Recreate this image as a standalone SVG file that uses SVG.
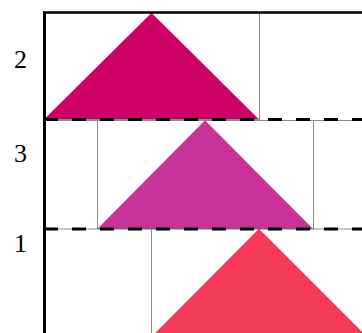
<svg xmlns="http://www.w3.org/2000/svg" width="362" height="333" viewBox="0 0 362 333">
<style>
.grid{stroke:#8c8c8c;stroke-width:1;fill:none}
.sep{stroke:#000;stroke-width:3;stroke-dasharray:14 14;fill:none}
.axis{stroke:#000;fill:none}
.lbl{font-family:"Liberation Serif","Times New Roman",serif;font-size:26px;fill:#000;text-anchor:middle}
.tri{stroke:#666;stroke-width:0.4}
</style>
<rect width="362" height="333" fill="#fff"/>
<g id="grid">
<line class="grid" x1="44" y1="120.5" x2="362" y2="120.5"/>
<line class="grid" x1="44" y1="229" x2="362" y2="229"/>
<line class="grid" x1="259.5" y1="13" x2="259.5" y2="120"/>
<line class="grid" x1="97.5" y1="120" x2="97.5" y2="229"/>
<line class="grid" x1="313.5" y1="120" x2="313.5" y2="229"/>
<line class="grid" x1="151.5" y1="229" x2="151.5" y2="333"/>
</g>
<g id="node-2">
<polygon class="tri" points="44,119.5 151.5,13 259,119.5" fill="#cc0066"/>
<text class="lbl" x="20.5" y="68">2</text>
</g>
<g id="node-3">
<polygon class="tri" points="97.5,229 205,120.5 313,229" fill="#c83397"/>
<text class="lbl" x="20.5" y="162">3</text>
</g>
<g id="node-1">
<polygon class="tri" points="151.5,337 259,229 367,337" fill="#f43c5a"/>
<text class="lbl" x="20.5" y="252">1</text>
</g>
<g id="connectors">
<line class="sep" x1="44" y1="119.5" x2="362" y2="119.5"/>
<line class="sep" x1="44" y1="229" x2="362" y2="229"/>
<line class="axis" stroke-width="2.5" x1="43" y1="12.5" x2="362" y2="12.5"/>
<line class="axis" stroke-width="3" x1="44.5" y1="11.5" x2="44.5" y2="333"/>
</g>
</svg>
